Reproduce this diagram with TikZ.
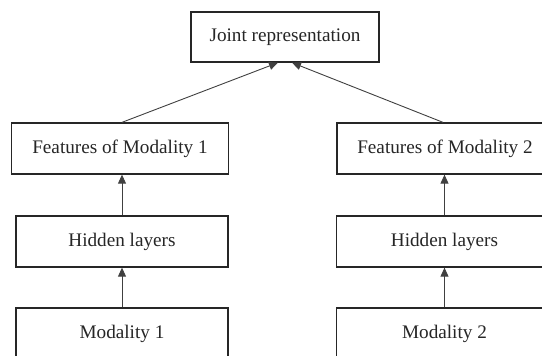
\documentclass[tikz,border=0pt]{standalone}
\usepackage{fontspec}
\setmainfont{Liberation Serif}
\usetikzlibrary{arrows.meta}
\begin{document}
\begin{tikzpicture}[x=1pt,y=-1pt,
  box/.style={draw=black!85, line width=1.3pt, fill=white, text=black!85,
    inner sep=0pt, font=\fontsize{19.2}{22}\selectfont},
  arr/.style={draw=black!75, line width=0.9pt, -{Triangle[length=9pt,width=8pt]}}]
\useasboundingbox (0,0) rectangle (542,356);
\node[box, minimum width=188pt, minimum height=50pt] (j) at (285,37) {Joint representation};
\node[box, minimum width=217pt, minimum height=51pt] (f1) at (120,148.5) {Features of Modality 1};
\node[box, minimum width=212pt, minimum height=51pt] (h1) at (122,241.5) {Hidden layers};
\node[box, minimum width=212pt, minimum height=51pt] (m1) at (122,333.5) {Modality 1};
\node[box, minimum width=216pt, minimum height=51pt] (f2) at (445,148.5) {Features of Modality 2};
\node[box, minimum width=216pt, minimum height=51pt] (h2) at (444.5,241.5) {Hidden layers};
\node[box, minimum width=216pt, minimum height=51pt] (m2) at (444.5,333.5) {Modality 2};
\draw[arr] ([xshift=2pt]f1.north) -- ([xshift=-7pt]j.south);
\draw[arr] ([xshift=-2pt]f2.north) -- ([xshift=7pt]j.south);
\draw[arr] (h1.north) -- (h1.north |- f1.south);
\draw[arr] (m1.north) -- (m1.north |- h1.south);
\draw[arr] (h2.north) -- (h2.north |- f2.south);
\draw[arr] (m2.north) -- (m2.north |- h2.south);
\end{tikzpicture}
\end{document}
